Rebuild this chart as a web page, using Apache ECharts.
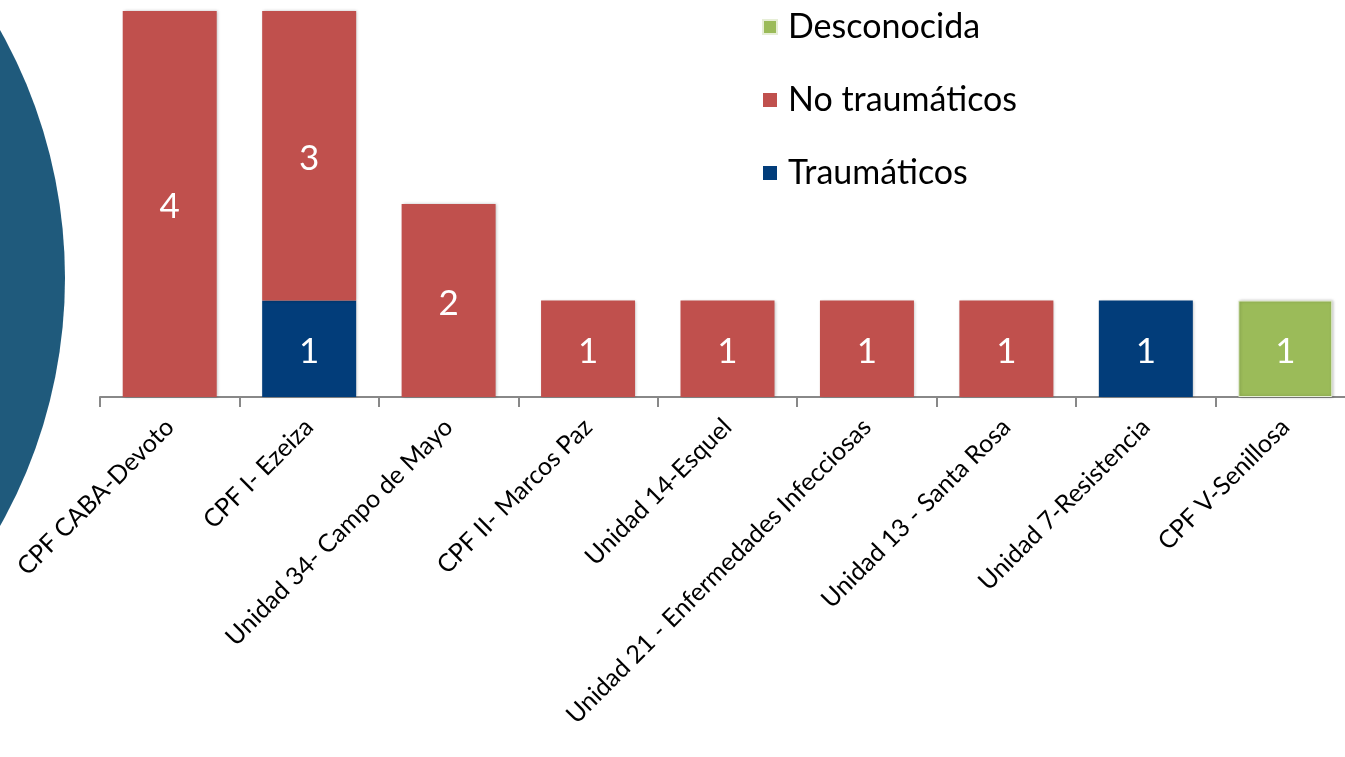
<!DOCTYPE html>
<html>
<head>
<meta charset="utf-8">
<script src="https://cdn.jsdelivr.net/npm/echarts@6/dist/echarts.min.js"></script>
<style>
  html, body { margin: 0; padding: 0; background: #fff; }
  #chart { width: 1345px; height: 757px; }
</style>
</head>
<body>
<div id="chart"></div>
<script>
const categories = [
  'CPF CABA-Devoto',
  'CPF I- Ezeiza',
  'Unidad 34- Campo de Mayo',
  'CPF II- Marcos Paz',
  'Unidad 14-Esquel',
  'Unidad 21 - Enfermedades Infecciosas',
  'Unidad 13 - Santa Rosa',
  'Unidad 7-Resistencia',
  'CPF V-Senillosa'
]
const traumaticos = [null, 1, null, null, null, null, null, 1, null]
const noTraumaticos = [4, 3, 2, 1, 1, 1, 1, null, null]
const desconocida = [null, null, null, null, null, null, null, null, 1]

const FONT = 'Lato, "Open Sans", sans-serif'

const chart = echarts.init(document.getElementById('chart'), null, { renderer: 'canvas' })

// estilo comun de las barras
const barBase = {
  type: 'bar',
  stack: 'total',
  barWidth: 94,
  label: {
    show: true,
    position: 'inside',
    color: '#fff',
    fontSize: 35,
    fontFamily: FONT,
    offset: [0, 3]
  }
}

chart.setOption({
  animation: false,
  graphic: [
    {
      type: 'circle',
      shape: { cx: -441, cy: 278, r: 506 },
      style: { fill: '#1f5a7c' },
      z: -10
    }
  ],
  legend: {
    orient: 'vertical',
    left: 757,
    top: 5,
    itemWidth: 14,
    itemHeight: 14,
    itemGap: 39,
    icon: 'rect',
    data: ['Desconocida', 'No traumáticos', 'Traumáticos'],
    textStyle: { fontSize: 34, fontFamily: FONT, color: '#000', padding: [0, 0, 0, 6] }
  },
  grid: { left: 100, top: 11, width: 1255, height: 386, containLabel: false, outerBoundsMode: 'none' },
  xAxis: {
    type: 'category',
    data: categories,
    axisLine: { lineStyle: { color: '#888', width: 2 } },
    axisTick: { show: true, interval: 0, length: 10, lineStyle: { color: '#888', width: 2 } },
    axisLabel: {
      rotate: 45,
      interval: 0,
      margin: 26,
      fontSize: 25,
      fontFamily: FONT,
      color: '#000',
      padding: [0, 0, 0, 0]
    }
  },
  yAxis: {
    type: 'value',
    min: 0,
    max: 4,
    show: false,
    splitLine: { show: false }
  },
  series: [
    Object.assign({}, barBase, {
      name: 'Traumáticos',
      data: traumaticos,
      itemStyle: { color: '#023d7a', shadowBlur: 3, shadowColor: 'rgba(0,0,0,0.25)', shadowOffsetX: 1 }
    }),
    Object.assign({}, barBase, {
      name: 'No traumáticos',
      data: noTraumaticos,
      itemStyle: { color: '#c0504d', shadowBlur: 3, shadowColor: 'rgba(0,0,0,0.25)', shadowOffsetX: 1 }
    }),
    Object.assign({}, barBase, {
      name: 'Desconocida',
      data: desconocida,
      itemStyle: { color: '#9bbb59', borderColor: '#e6eed6', borderWidth: 1, shadowBlur: 3, shadowColor: 'rgba(0,0,0,0.25)', shadowOffsetX: 1 }
    })
  ]
})
</script>
</body>
</html>
